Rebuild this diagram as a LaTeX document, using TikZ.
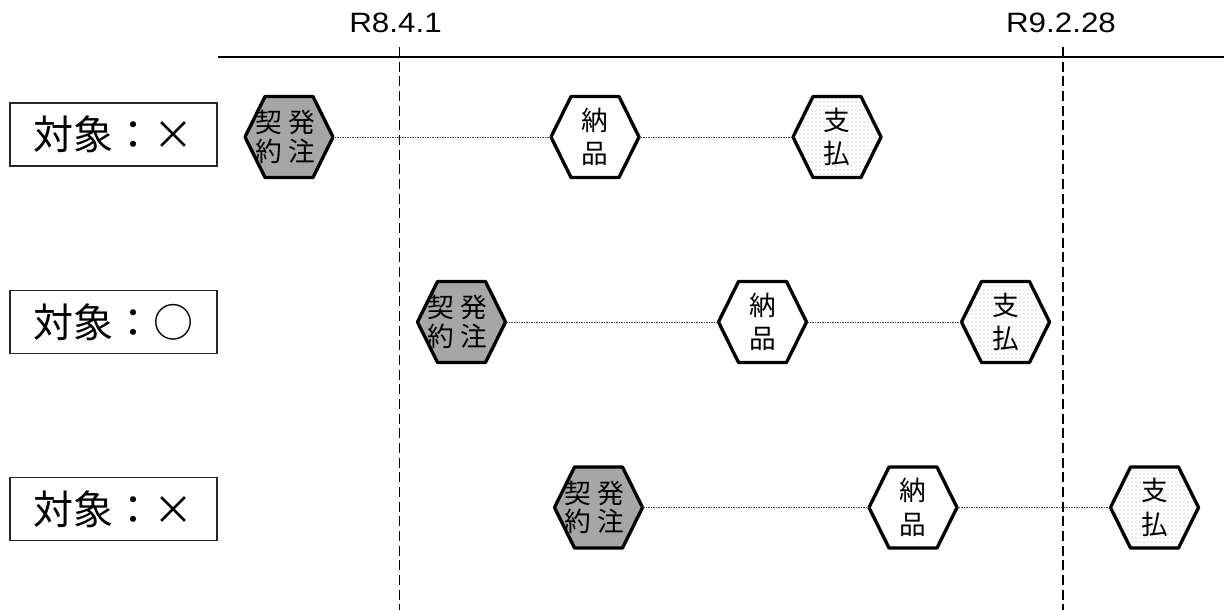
\documentclass[tikz,border=0pt]{standalone}
\usepackage{fontspec}
\setmainfont{Liberation Sans}
\newfontfamily\jp{Noto Sans CJK JP}
\usetikzlibrary{patterns}
\newcommand{\hexat}[5]{%
  \path[#3] (#2) +(-44,0) -- +(-24,40.5) -- +(24,40.5) -- +(44,0) -- +(24,-40.5) -- +(-24,-40.5) -- cycle;
  \node[hexlabel, #4] (#1) at (#2) {#5};}
\newcommand{\keihatsu}{契\kern5pt発\kern6pt\\約\kern5pt注\kern6pt}
\begin{document}
\begin{tikzpicture}[x=0.75pt,y=-0.75pt,
  hexlabel/.style={minimum width=66pt, minimum height=60.75pt, inner sep=0pt, align=center},
  twobytwo/.style={font=\jp\fontsize{20}{21.5}\selectfont},
  onebytwo/.style={font=\jp\fontsize{20}{25}\selectfont},
  hexline/.style={draw=black, line width=2.5pt, line join=round},
  contract/.style={hexline, fill=black!35},
  delivery/.style={hexline, fill=white},
  payment/.style={hexline, preaction={fill=white}, pattern=dots, pattern color=black!35},
  rowlabel/.style={draw=black!85, line width=1.1pt, minimum width=155.25pt, minimum height=47.25pt, inner sep=0pt, font=\jp\fontsize{30}{32}\selectfont},
  datelabel/.style={anchor=base, font=\fontsize{21}{24}\selectfont},
  guide/.style={line width=0.8pt, dash pattern=on 7.5pt off 3.5pt},
  conn/.style={line width=0.7pt, draw=black!75, dash pattern=on 0.75pt off 0.5pt},
  axis/.style={line width=2.2pt}]
\useasboundingbox (0,0) rectangle (1224,610);

% timeline
\coordinate (axl) at (218,57);
\coordinate (axr) at (1224,57);
\draw[axis] (axl) -- (axr);
\coordinate (g1t) at (399.5,47);
\coordinate (g1b) at (399.5,610);
\coordinate (g2t) at (1063,47);
\coordinate (g2b) at (1063,610);
\draw[guide] (g1t) -- (g1b);
\draw[guide] (g2t) -- (g2b);
\node[datelabel] (d1) at (395.5,33) {\scalebox{1.12}[1]{R8.4.1}};
\node[datelabel] (d2) at (1061,33) {\scalebox{1.12}[1]{R9.2.28}};

% row labels
\node[rowlabel] (r1) at (113.5,134.5) {対象：×};
\node[rowlabel] (r2) at (113.5,322) {対象：○};
\node[rowlabel] (r3) at (113.5,509) {対象：×};

% row 1
\hexat{k1}{289,137}{contract}{twobytwo}{\keihatsu}
\hexat{n1}{595,137}{delivery}{onebytwo}{納\\品}
\hexat{s1}{837,137}{payment}{onebytwo}{支\\払}
% row 2
\hexat{k2}{461.5,322}{contract}{twobytwo}{\keihatsu}
\hexat{n2}{762.5,322}{delivery}{onebytwo}{納\\品}
\hexat{s2}{1005.5,322}{payment}{onebytwo}{支\\払}
% row 3
\hexat{k3}{598.5,507.5}{contract}{twobytwo}{\keihatsu}
\hexat{n3}{913,507.5}{delivery}{onebytwo}{納\\品}
\hexat{s3}{1154.5,507.5}{payment}{onebytwo}{支\\払}

\foreach \r in {1,2,3}{
  \draw[conn] (k\r.east) -- (n\r.west);
  \draw[conn] (n\r.east) -- (s\r.west);
}
\end{tikzpicture}
\end{document}
